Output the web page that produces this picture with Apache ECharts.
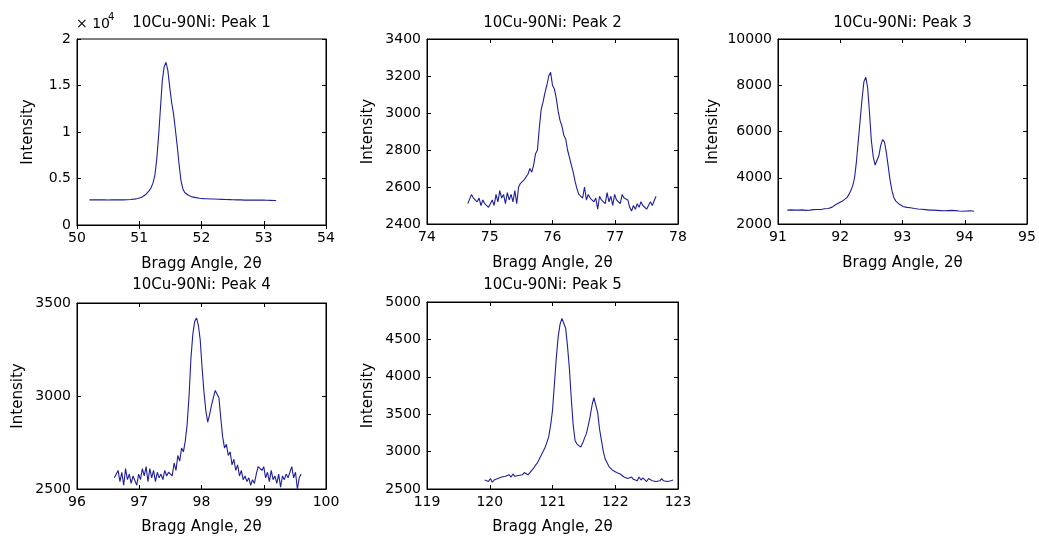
<!DOCTYPE html>
<html><head><meta charset="utf-8">
<script src="https://cdn.jsdelivr.net/npm/echarts/dist/echarts.min.js"></script>
<style>html,body{margin:0;padding:0;background:#fff}#c{width:1039px;height:538px}</style>
</head><body><div id="c"></div>
<script>
// ---- data ----
const titles = ['10Cu-90Ni: Peak 1','10Cu-90Ni: Peak 2','10Cu-90Ni: Peak 3','10Cu-90Ni: Peak 4','10Cu-90Ni: Peak 5'];
const xName = 'Bragg Angle, 2\u03b8';
const yName = 'Intensity';
const angleStep = 0.03;
const startAngles = [50.20, 74.65, 91.15, 96.60, 119.92];
const xRanges = [[50,54],[74,78],[91,95],[96,100],[119,123]];
const yRanges = [[0,20000,5000],[2400,3400,200],[2000,10000,2000],[2500,3500,500],[2500,5000,500]];
const yTicks1 = ['0','0.5','1','1.5','2'];

const peak1 = [2700,2690,2700,2710,2700,2690,2700,2700,2710,2700,2690,2700,2710,2700,2700,2690,2700,2710,2700,2700,
2710,2720,2740,2760,2780,2820,2850,2900,2980,3080,3250,3450,3700,4000,4500,5300,7000,9500,12500,15500,
17000,17500,16600,14800,13200,12000,10300,8500,6500,4800,3900,3500,3300,3200,3100,3020,2980,2940,2900,2880,
2860,2840,2830,2820,2810,2800,2790,2790,2780,2770,2760,2760,2750,2740,2740,2730,2720,2720,2710,2700,
2690,2700,2690,2680,2670,2680,2700,2690,2680,2670,2660,2670,2680,2670,2660,2660,2650,2650,2640,2630,2600];

const peak2 = [2510,2500,2560,2540,2550,2520,2540,2500,2530,2510,2520,2490,2510,2530,2500,2560,2520,2580,2540,2560,
2510,2570,2530,2560,2520,2580,2510,2600,2620,2610,2640,2630,2670,2700,2680,2720,2780,2800,2920,3020,
3060,3110,3150,3200,3220,3150,3130,3080,3010,2960,2930,2880,2860,2800,2760,2720,2680,2630,2590,2560,
2570,2540,2600,2530,2560,2540,2550,2520,2540,2480,2550,2530,2540,2510,2570,2520,2550,2500,2560,2530,
2540,2510,2560,2540,2550,2530,2490,2470,2500,2480,2510,2490,2520,2500,2510,2480,2500,2520,2500,2510,2550];

const peak3 = [2600,2590,2610,2580,2600,2590,2600,2580,2610,2600,2590,2620,2600,2610,2620,2610,2630,2640,2630,2650,
2660,2680,2670,2700,2730,2790,2840,2880,2930,2970,3020,3080,3150,3280,3450,3650,4000,4700,5600,6500,
7400,8150,8350,7900,6800,5600,4900,4550,4600,4950,5400,5650,5550,5100,4500,3900,3450,3150,3000,2920,
2850,2790,2760,2740,2720,2710,2700,2690,2670,2680,2650,2660,2640,2650,2620,2630,2600,2590,2600,2580,
2590,2600,2580,2590,2570,2590,2580,2570,2590,2560,2580,2570,2560,2580,2550,2570,2560,2550,2570,2540,2550];

const peak4 = [2560,2550,2600,2540,2590,2520,2610,2550,2580,2530,2570,2560,2520,2580,2550,2610,2570,2620,2540,2610,
2560,2600,2540,2590,2560,2580,2550,2600,2570,2590,2600,2570,2640,2600,2680,2650,2720,2700,2760,2850,
3000,3200,3330,3400,3420,3380,3300,3150,3020,2920,2860,2900,2950,2990,3030,3040,2990,2880,2780,2720,
2740,2680,2700,2630,2660,2600,2630,2570,2600,2550,2570,2540,2560,2520,2550,2530,2580,2620,2630,2600,
2620,2560,2590,2540,2600,2550,2570,2530,2580,2510,2570,2550,2580,2560,2590,2620,2560,2590,2500,2560,2580];

const peak5 = [2620,2630,2600,2640,2590,2620,2610,2640,2630,2660,2640,2670,2650,2690,2660,2700,2670,2690,2680,2700,
2690,2720,2700,2690,2720,2750,2780,2820,2850,2900,2950,3000,3050,3120,3200,3350,3550,3900,4250,4530,
4700,4780,4790,4650,4400,4100,3700,3350,3150,3100,3080,3060,3110,3180,3240,3350,3470,3620,3720,3700,
3520,3300,3150,3000,2900,2850,2800,2780,2750,2740,2720,2710,2700,2680,2660,2650,2640,2620,2660,2630,
2650,2610,2660,2620,2650,2630,2600,2640,2620,2610,2630,2600,2620,2610,2640,2610,2630,2600,2620,2610,2620];

const peaks = [peak1, peak2, peak3, peak4, peak5];

// ---- layout ----
const FONT = 'DejaVu Sans';
const grids = [
  {left:77, top:39, width:249, height:186},
  {left:427, top:39, width:251, height:185},
  {left:778, top:39, width:249, height:185},
  {left:77, top:303, width:249, height:186},
  {left:427, top:302, width:251, height:187}
];
const yNameGaps = [41.5, 51.5, 57.5, 51.5, 51.5];
const xNameGaps = [31.5, 31.5, 31.5, 30.5, 30.5];
const titleY = [23, 23, 23, 285, 285];
const lineColor = '#1f1f99';

const xAxes = [], yAxes = [], series = [], graphics = [];
grids.forEach((g, i) => {
  const [xmin, xmax] = xRanges[i];
  const [ymin, ymax, yint] = yRanges[i];
  const tick = {show:true, inside:true, length:4, lineStyle:{color:'#000', width:1}};
  const line = {show:true, lineStyle:{color:'#000', width:1}};
  xAxes.push({type:'value', gridIndex:i, min:xmin, max:xmax, interval:1, position:'bottom',
    axisLine:line, axisTick:tick, splitLine:{show:false},
    axisLabel:{show:true, margin:6, color:'#000', fontSize:14, fontFamily:FONT},
    name:xName, nameLocation:'middle', nameGap:xNameGaps[i],
    nameTextStyle:{color:'#000', fontSize:15, fontFamily:FONT}});
  xAxes.push({type:'value', gridIndex:i, min:xmin, max:xmax, interval:1, position:'top',
    axisLine:line, axisTick:tick, splitLine:{show:false}, axisLabel:{show:false}});
  yAxes.push({type:'value', gridIndex:i, min:ymin, max:ymax, interval:yint, position:'left',
    axisLine:line, axisTick:tick, splitLine:{show:false},
    axisLabel:{show:true, margin:6, color:'#000', fontSize:14, fontFamily:FONT,
      formatter: i === 0 ? (v => yTicks1[Math.round(v / yint)]) : (v => String(v))},
    name:yName, nameLocation:'middle', nameGap:yNameGaps[i], nameRotate:90,
    nameTextStyle:{color:'#000', fontSize:15, fontFamily:FONT}});
  yAxes.push({type:'value', gridIndex:i, min:ymin, max:ymax, interval:yint, position:'right',
    axisLine:line, axisTick:tick, splitLine:{show:false}, axisLabel:{show:false}});
  const x0 = startAngles[i];
  series.push({type:'line', xAxisIndex:2*i, yAxisIndex:2*i, showSymbol:false, symbol:'none',
    lineStyle:{color:lineColor, width:1.1}, animation:false,
    data: peaks[i].map((v, k) => [+(x0 + k*angleStep).toFixed(2), v])});
  graphics.push({type:'text', x: g.left + g.width/2, y: titleY[i],
    style:{text:titles[i], textAlign:'center', textVerticalAlign:'middle', fill:'#000',
      font:'15px "' + FONT + '"'}});
});
// exponent label for Peak 1 axis
graphics.push({type:'text', x:76, y:24, style:{text:'\u00d7 10', textAlign:'left', textVerticalAlign:'middle', fill:'#000', font:'14px "' + FONT + '"'}});
graphics.push({type:'text', x:108, y:17, style:{text:'4', textAlign:'left', textVerticalAlign:'middle', fill:'#000', font:'10px "' + FONT + '"'}});

const chart = echarts.init(document.getElementById('c'), null, {renderer:'canvas'});
chart.setOption({
  animation:false,
  backgroundColor:'#fff',
  grid: grids.map(g => Object.assign({show:true, borderColor:'#000', borderWidth:1, backgroundColor:'#fff'}, g)),
  xAxis: xAxes, yAxis: yAxes, series: series, graphic: graphics
});
</script></body></html>
